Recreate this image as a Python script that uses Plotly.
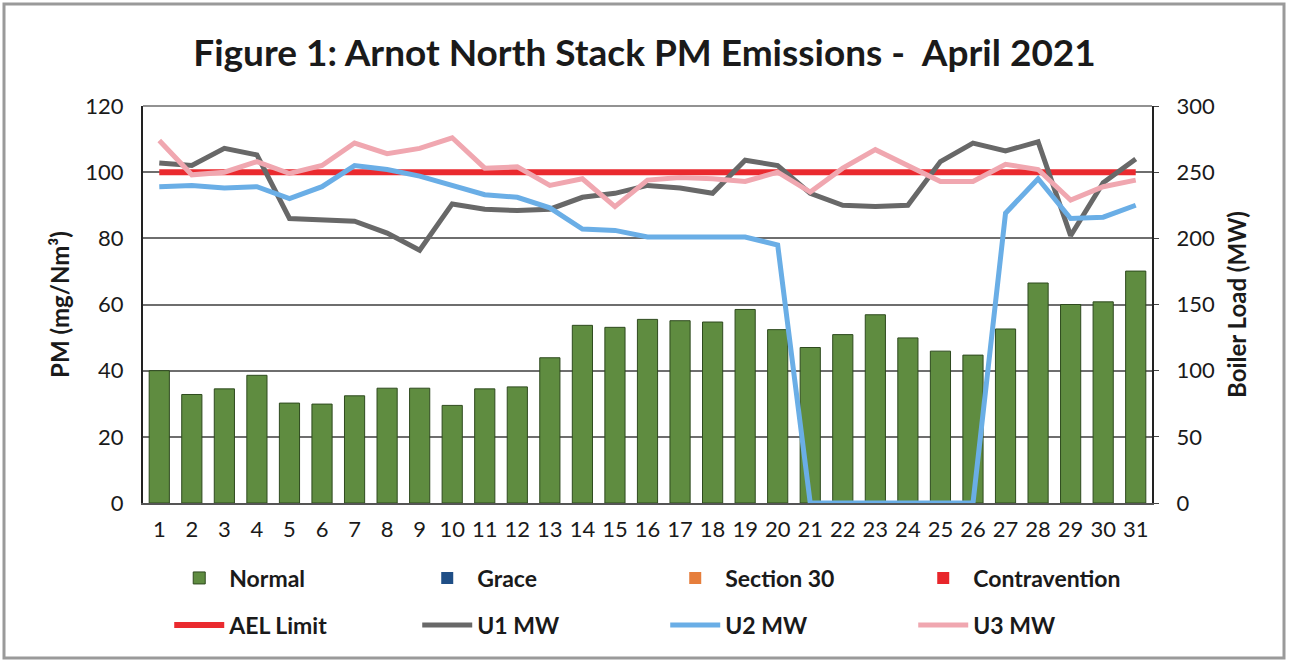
import plotly.graph_objects as go

days = list(range(1, 32))
day_labels = [str(d) for d in days]

# PM emissions (mg/Nm3), Normal category
pm_normal = [40.0, 32.8, 34.5, 38.6, 30.2, 29.9, 32.4, 34.7, 34.7, 29.5,
             34.5, 35.1, 43.9, 53.7, 53.1, 55.5, 55.1, 54.7, 58.5, 52.4,
             47.0, 50.9, 56.9, 49.9, 45.9, 44.7, 52.6, 66.5, 60.0, 60.8, 70.1]
pm_grace = [0] * 31
pm_section30 = [0] * 31
pm_contravention = [0] * 31

ael_limit = [100] * 31

u1_mw = [257, 255, 268, 263, 215, 214, 213, 204, 191, 226,
         222, 221, 222, 231, 234, 240, 238, 234, 259, 255,
         234, 225, 224, 225, 258, 272, 266, 273, 202, 242, 260]
u2_mw = [239, 240, 238, 239, 230, 239, 255, 252, 247, 240,
         233, 231, 223, 207, 206, 201, 201, 201, 201, 195,
         0, 0, 0, 0, 0, 0, 219, 245, 215, 216, 225]
u3_mw = [274, 248, 250, 258, 249, 255, 272, 264, 268, 276,
         253, 254, 240, 245, 224, 244, 246, 245, 243, 250,
         235, 253, 267, 255, 243, 243, 256, 252, 229, 239, 244]

FONT = "Lato"
TXT = "#1a1a1a"
fig = go.Figure()

fig.add_trace(go.Bar(x=days, y=pm_normal, name="Normal", legend="legend",
                     marker=dict(color="#5f8c40", line=dict(color="#2e4a1e", width=1)),
                     width=0.62))
fig.add_trace(go.Bar(x=days, y=pm_grace, name="Grace", legend="legend",
                     marker=dict(color="#1f4e86", line=dict(width=0)), width=0.62))
fig.add_trace(go.Bar(x=days, y=pm_section30, name="Section 30", legend="legend",
                     marker=dict(color="#e67e3c", line=dict(width=0)), width=0.62))
fig.add_trace(go.Bar(x=days, y=pm_contravention, name="Contravention", legend="legend",
                     marker=dict(color="#e8262b", line=dict(width=0)), width=0.62))

fig.add_trace(go.Scatter(x=days, y=ael_limit, name="AEL Limit", mode="lines", legend="legend2",
                         line=dict(color="#ea2a2f", width=6)))
fig.add_trace(go.Scatter(x=days, y=u1_mw, name="U1 MW", mode="lines", yaxis="y2", legend="legend2",
                         line=dict(color="#686868", width=5)))
fig.add_trace(go.Scatter(x=days, y=u2_mw, name="U2 MW", mode="lines", yaxis="y2", legend="legend2",
                         line=dict(color="#6aaee6", width=5)))
fig.add_trace(go.Scatter(x=days, y=u3_mw, name="U3 MW", mode="lines", yaxis="y2", legend="legend2",
                         line=dict(color="#f0a7b0", width=5)))

L, R, T, B = 143, 137, 106, 159
W, H = 1289, 662
pw, ph = W - L - R, H - T - B

legend_common = dict(orientation="h", xanchor="left", yanchor="middle",
                     traceorder="normal", entrywidth=183, entrywidthmode="pixels",
                     itemwidth=50, font=dict(size=23, family=FONT, color=TXT, weight="bold"),
                     bgcolor="rgba(0,0,0,0)")

fig.update_layout(
    width=W, height=H,
    margin=dict(l=L, r=R, t=T, b=B),
    paper_bgcolor="white", plot_bgcolor="white",
    barmode="overlay",
    font=dict(family=FONT, color=TXT, size=22),
    title=dict(text="<b>Figure 1: Arnot North Stack PM Emissions -&nbsp; April 2021</b>",
               x=0.5, xanchor="center", y=1 - 53 / H, yanchor="middle",
               font=dict(family=FONT, size=37, color=TXT)),
    xaxis=dict(tickmode="array", tickvals=days, ticktext=day_labels,
               range=[0.5, 31.5], showgrid=False, showline=True,
               linecolor="#555555", linewidth=2, ticks="",
               ticklabelstandoff=6, tickfont=dict(size=22)),
    yaxis=dict(range=[0, 120], dtick=20, showgrid=True, gridcolor="#6e6e6e",
               gridwidth=1.5, showline=True, linecolor="#222222", linewidth=2,
               zeroline=False, ticks="", ticklabelstandoff=13,
               tickfont=dict(size=22),
               title=dict(text="<b>PM (mg/Nm³)</b>", font=dict(size=24), standoff=9)),
    yaxis2=dict(range=[0, 300], dtick=50, overlaying="y", side="right",
                showgrid=False, showline=True, linecolor="#222222", linewidth=2,
                zeroline=False, ticks="outside", ticklen=5, tickcolor="#444444",
                ticklabelstandoff=13, tickfont=dict(size=22),
                title=dict(text="<b>Boiler Load (MW)</b>", font=dict(size=24), standoff=15)),
    legend=dict(x=0.026, y=(503 - 578) / ph, **legend_common),
    legend2=dict(x=0.026, y=(503 - 625) / ph, **legend_common),
    showlegend=True,
)

# chart outer frame
fig.add_shape(type="rect", xref="paper", yref="paper",
              x0=(4 - L) / pw, x1=(1284 - L) / pw,
              y0=(T + ph - 658) / ph, y1=(T + ph - 4) / ph,
              line=dict(color="#9a9a9a", width=3), layer="below")
# top edge of plot area
fig.add_shape(type="line", xref="paper", yref="paper", x0=0, x1=1, y0=1, y1=1,
              line=dict(color="#6e6e6e", width=1.5))

fig.write_html("out.html", config={"displayModeBar": False},
               post_script="document.body.style.margin='0';")
